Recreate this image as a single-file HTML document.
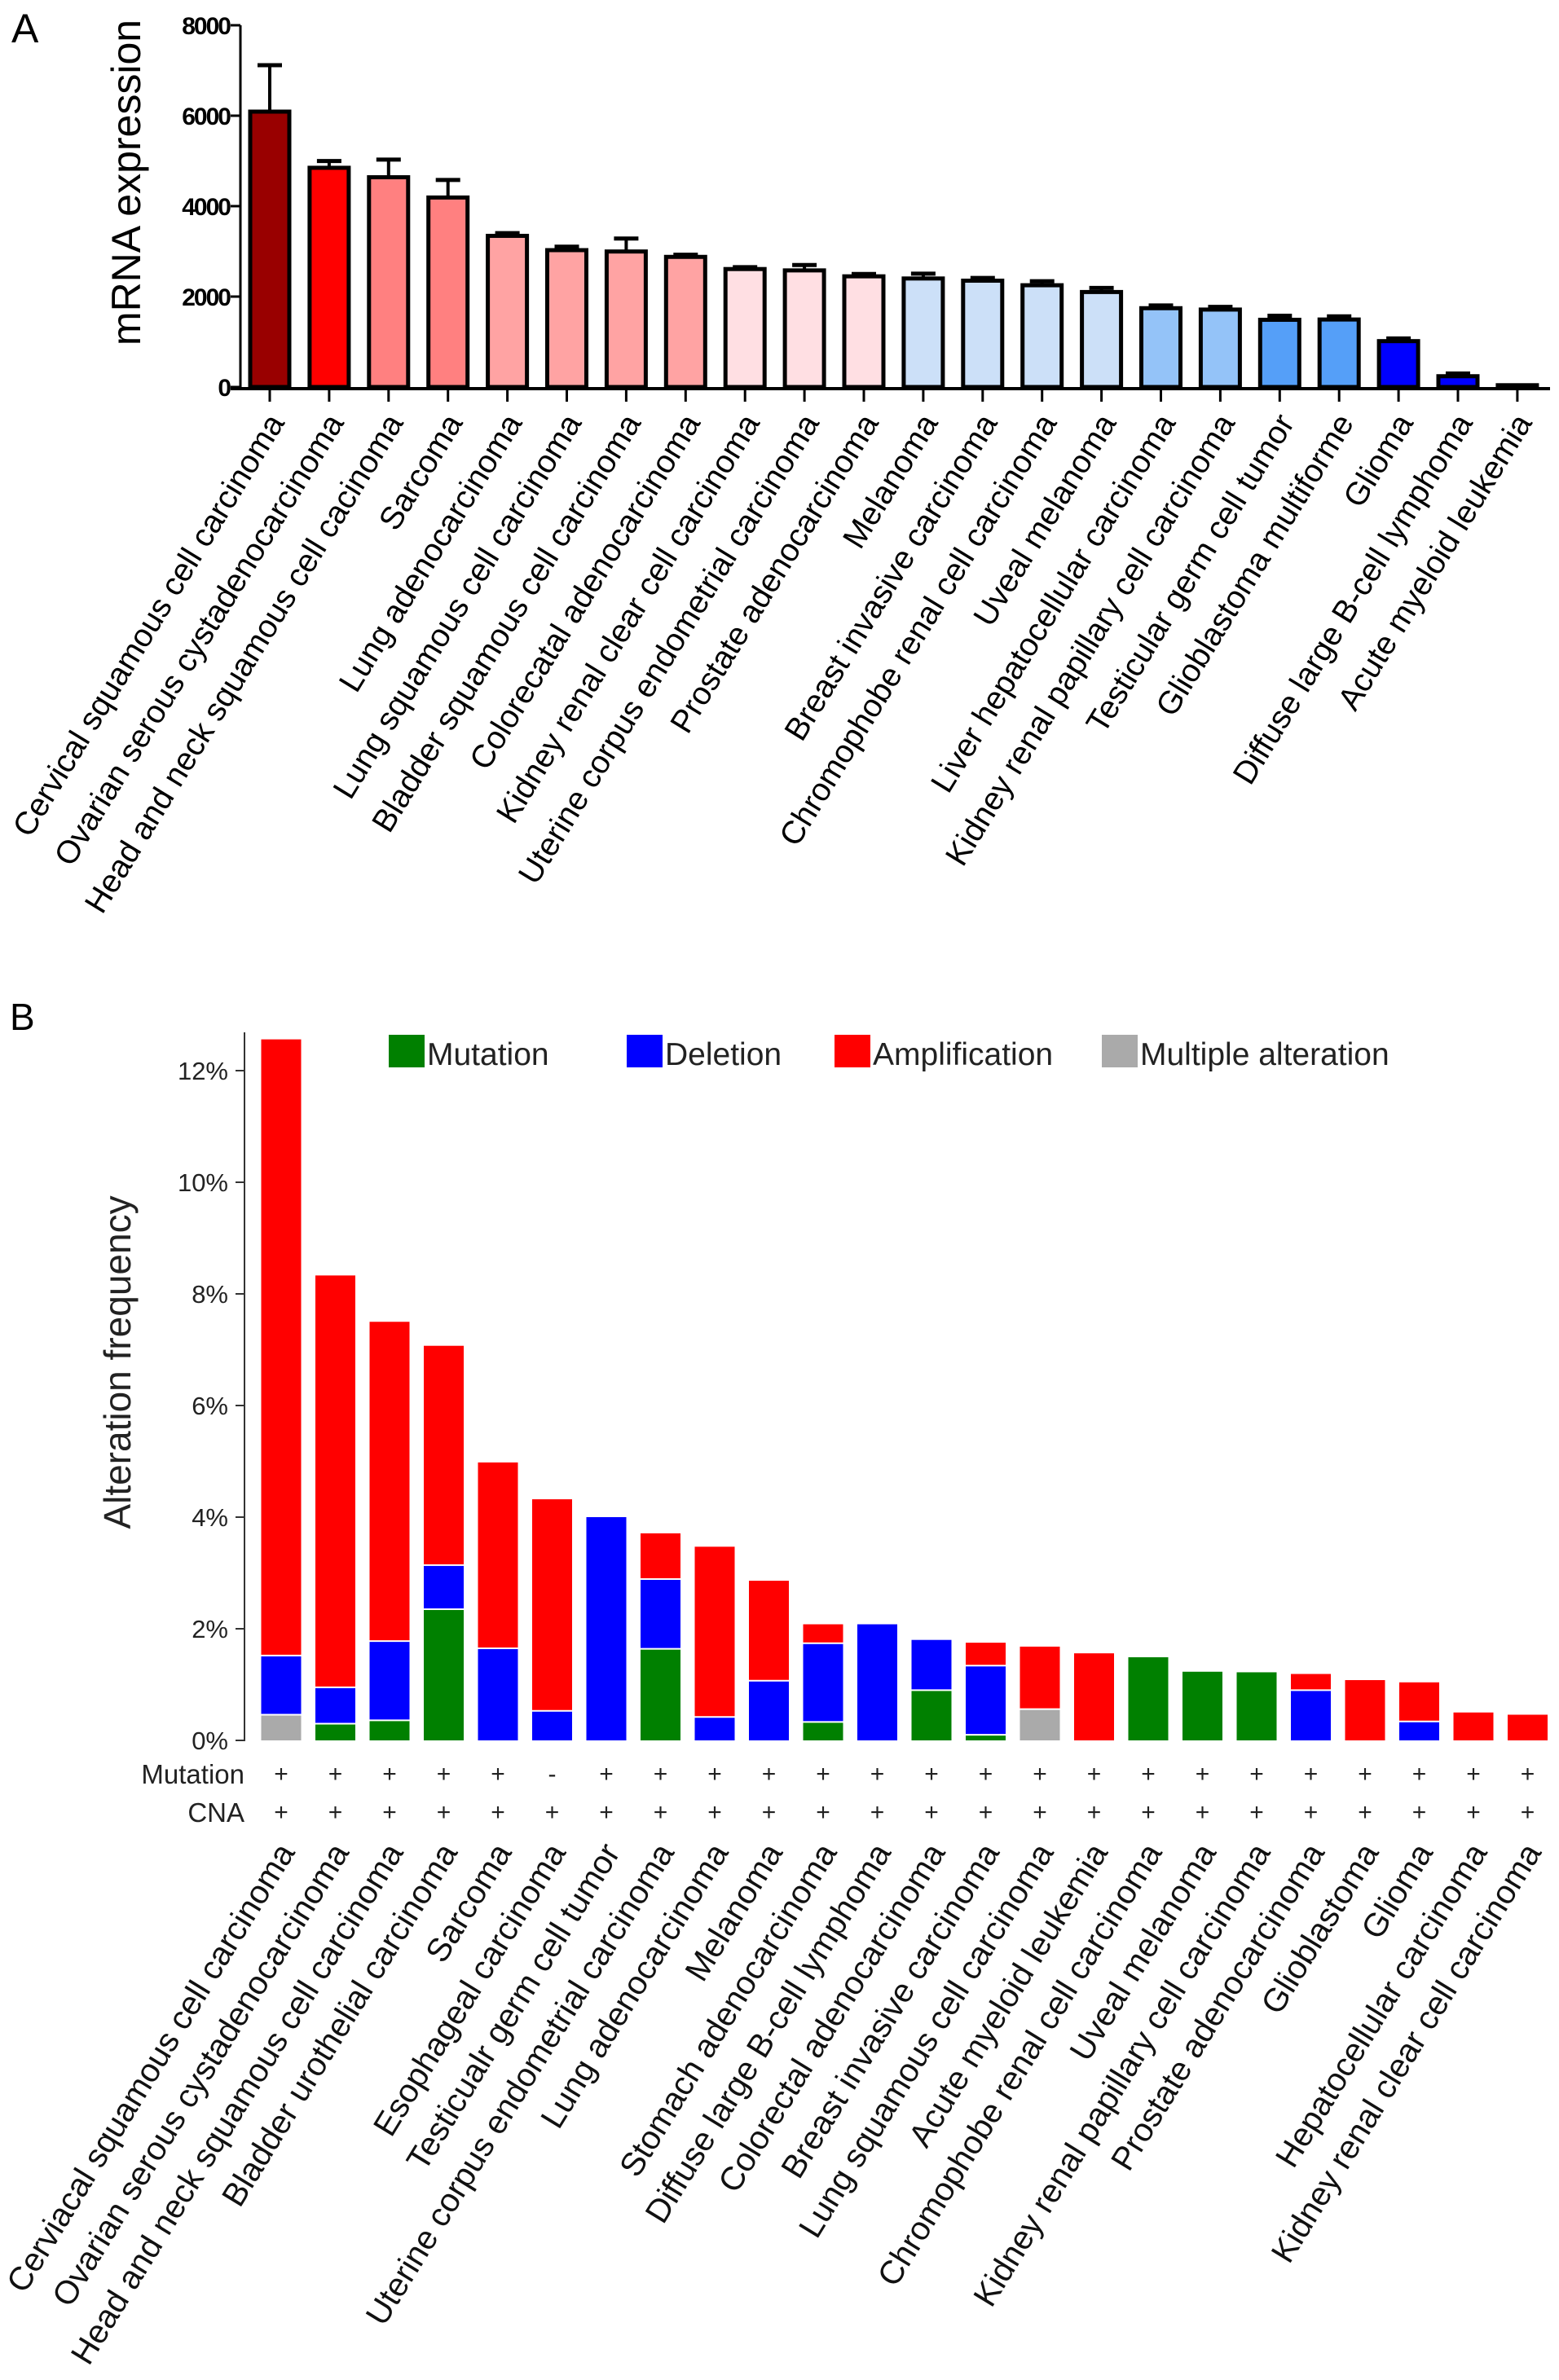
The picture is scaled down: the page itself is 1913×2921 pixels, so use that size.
<!DOCTYPE html>
<html><head><meta charset="utf-8">
<style>
html,body{margin:0;padding:0;background:#fff;}
svg{display:block;font-family:"Liberation Sans",Arial,sans-serif;}
</style></head>
<body>
<svg id="fig" width="1913" height="2921" viewBox="0 0 1913 2921" xmlns="http://www.w3.org/2000/svg">
  <text x="14" y="52" font-size="50" fill="#000">A</text>
  <text x="12" y="1264" font-size="46" fill="#000">B</text>
  <g id="chartA"></g>
  <g id="chartB"></g>
</svg>
<script>
// ---------- Panel A data ----------
const catsA = ["Cervical squamous cell carcinoma","Ovarian serous cystadenocarcinoma","Head and neck squamous cell cacinoma","Sarcoma","Lung adenocarcinoma","Lung squamous cell carcinoma","Bladder squamous cell carcinoma","Colorecatal adenocarcinoma","Kidney renal clear cell carcinoma","Uterine corpus endometrial carcinoma","Prostate adenocarcinoma","Melanoma","Breast invasive carcinoma","Chromophobe renal cell carcinoma","Uveal melanoma","Liver hepatocellular carcinoma","Kidney renal papillary cell carcinoma","Testicular germ cell tumor","Glioblastoma multiforme","Glioma","Diffuse large B-cell lymphoma","Acute myeloid leukemia"];
const valuesA = [6090,4848,4639,4191,3343,3027,2997,2878,2609,2579,2448,2400,2352,2251,2101,1743,1713,1487,1493,1015,239,40];
const errorsA = [1026,150,391,388,60,77,287,47,41,120,53,107,60,89,90,60,60,89,71,60,60,0];
const colorsA = ["#990000","#ff0000","#ff8080","#ff8080","#ffa3a3","#ffa3a3","#ffa3a3","#ffa3a3","#ffdfe3","#ffdfe3","#ffdfe3","#cce0f8","#cce0f8","#cce0f8","#cce0f8","#94c3f8","#94c3f8","#559ff8","#559ff8","#0000ff","#0000ff","#ffffff"];
const ticksA = [0,2000,4000,6000,8000];

// ---------- Panel B data ----------
const catsB = ["Cerviacal squamous cell carcinoma","Ovarian serous cystadenocarcinoma","Head and neck squamous cell carcinoma","Bladder urothelial carcinoma","Sarcoma","Esophageal carcinoma","Testicualr germ cell tumor","Uterine corpus endometrial carcinoma","Lung adenocarcinoma","Melanoma","Stomach adenocarcinoma","Diffuse large B-cell lymphoma","Colorectal adenocarcinoma","Breast invasive carcinoma","Lung squamous cell carcinoma","Acute myeloid leukemia","Chromophobe renal cell carcinoma","Uveal melanoma","Kidney renal papillary cell carcinoma","Prostate adenocarcinoma","Glioblastoma","Glioma","Hepatocellular carcinoma","Kidney renal clear cell carcinoma"];
const multipleB = [0.46,0,0,0,0,0,0,0,0,0,0,0,0,0,0.56,0,0,0,0,0,0,0,0,0];
const mutationB = [0,0.3,0.36,2.35,0,0,0,1.64,0,0,0.33,0,0.9,0.1,0,0,1.49,1.23,1.22,0,0,0,0,0];
const deletionB = [1.06,0.65,1.42,0.79,1.65,0.53,4.0,1.25,0.42,1.07,1.41,2.08,0.9,1.24,0,0,0,0,0,0.9,0,0.34,0,0];
const amplificationB = [11.04,7.38,5.72,3.93,3.33,3.79,0,0.82,3.05,1.79,0.34,0,0,0.41,1.12,1.56,0,0,0,0.29,1.08,0.7,0.5,0.46];
const mutRowB = ["+","+","+","+","+","-","+","+","+","+","+","+","+","+","+","+","+","+","+","+","+","+","+","+"];
const cnaRowB = ["+","+","+","+","+","+","+","+","+","+","+","+","+","+","+","+","+","+","+","+","+","+","+","+"];
const ticksB = [0,2,4,6,8,10,12];
const legendB = ["Mutation","Deletion","Amplification","Multiple alteration"];

const NS = "http://www.w3.org/2000/svg";
function mk(tag, attrs, parent){
  const e = document.createElementNS(NS, tag);
  for (const k in attrs) e.setAttribute(k, attrs[k]);
  parent.appendChild(e);
  return e;
}

// ---------- Panel A drawing ----------
(function(){
  const g = document.getElementById('chartA');
  const x0 = 331, step = 72.9, bw = 48;
  const yA = v => 475 - v * 0.0555;
  const xA = i => x0 + i * step;

  const yl = mk('text', {x:0, y:0, 'font-size':50, 'text-anchor':'middle', transform:'translate(172,224) rotate(-90)'}, g);
  yl.textContent = 'mRNA expression';
  
  

  const ax = mk('line', {x1:295, y1:yA(8000), x2:295, y2:477, stroke:'#000', 'stroke-width':3}, g);
  
  
  const xax = mk('line', {x1:283, y1:477, x2:1902, y2:477, stroke:'#000', 'stroke-width':4}, g);
  
  

  ticksA.forEach(t => {
    const y = yA(t);
    const tk = mk('line', {x1:283, y1:y, x2:295, y2:y, stroke:'#000', 'stroke-width':3}, g);
    
    
    const tl = mk('text', {x:282, y:y + 11, 'font-size':30, 'font-weight':'bold', 'text-anchor':'end', 'letter-spacing':-2}, g);
    tl.textContent = t;
    
    
  });

  catsA.forEach((c, i) => {
    const cx = xA(i);
    const top = yA(valuesA[i]);
    if (errorsA[i] > 0) {
      const ey = yA(valuesA[i] + errorsA[i]);
      const el = mk('line', {x1:cx, y1:ey, x2:cx, y2:top, stroke:'#000', 'stroke-width':4}, g);
      
      
      const cap = mk('line', {x1:cx - 15, y1:ey, x2:cx + 15, y2:ey, stroke:'#000', 'stroke-width':5}, g);
      
      
    }
    const b = mk('rect', {x:cx - bw/2, y:top, width:bw, height:Math.max(475 - top, 1), fill:colorsA[i], stroke:'#000', 'stroke-width':5}, g);
    
    
    const tk = mk('line', {x1:cx, y1:477, x2:cx, y2:493, stroke:'#000', 'stroke-width':3}, g);
    
    
    const lbl = mk('text', {x:0, y:0, 'font-size':39.5, 'text-anchor':'end', 'dominant-baseline':'central', transform:'translate(' + (cx + 8) + ',512) rotate(-58.5)'}, g);
    lbl.textContent = c;
    
    
  });
})();

// ---------- Panel B drawing ----------
(function(){
  const g = document.getElementById('chartB');
  const x0 = 345, step = 66.5, bw = 49;
  const yB = v => 2136 - v * 68.5;
  const xB = i => x0 + i * step;

  const yl = mk('text', {x:0, y:0, 'font-size':46, 'text-anchor':'middle', fill:'#222', transform:'translate(160,1672) rotate(-90)'}, g);
  yl.textContent = 'Alteration frequency';
  
  

  const ax = mk('line', {x1:300, y1:1267, x2:300, y2:2137, stroke:'#333', 'stroke-width':2}, g);
  
  

  ticksB.forEach(t => {
    const y = yB(t);
    const tk = mk('line', {x1:289, y1:y, x2:300, y2:y, stroke:'#333', 'stroke-width':2}, g);
    
    
    const tl = mk('text', {x:280, y:y + 11, 'font-size':31, 'text-anchor':'end', fill:'#222'}, g);
    tl.textContent = t + '%';
    
    
  });

  const series = [multipleB, mutationB, deletionB, amplificationB];
  const cols = ['#aaaaaa', '#008000', '#0000ff', '#ff0000'];
  const names = ['multiple', 'mutation', 'deletion', 'amplification'];

  catsB.forEach((c, i) => {
    const cx = xB(i);
    let cum = 0;
    series.forEach((s, k) => {
      const v = s[i];
      if (v <= 0) return;
      const y1 = yB(cum + v), y0 = yB(cum);
      const r = mk('rect', {x:cx - bw/2, y:y1, width:bw, height:y0 - y1, fill:cols[k]}, g);
      
      
      if (cum > 0) {
        const sep = mk('line', {x1:cx - bw/2, y1:y0, x2:cx + bw/2, y2:y0, stroke:'#fff', 'stroke-width':2}, g);
        
        
      }
      cum += v;
    });
    const m = mk('text', {x:cx, y:2187, 'font-size':30, 'text-anchor':'middle', fill:'#222'}, g);
    m.textContent = mutRowB[i];
    
    
    const n = mk('text', {x:cx, y:2234, 'font-size':30, 'text-anchor':'middle', fill:'#222'}, g);
    n.textContent = cnaRowB[i];
    
    
    const lbl = mk('text', {x:0, y:0, 'font-size':40.5, 'text-anchor':'end', 'dominant-baseline':'central', fill:'#111', transform:'translate(' + (cx + 6) + ',2266) rotate(-58.5)'}, g);
    lbl.textContent = c;
    
    
  });

  const ml = mk('text', {x:300, y:2189, 'font-size':33, 'text-anchor':'end', fill:'#222'}, g);
  ml.textContent = 'Mutation';
  
  
  const cl = mk('text', {x:300, y:2236, 'font-size':33, 'text-anchor':'end', fill:'#222'}, g);
  cl.textContent = 'CNA';
  
  

  const legX = [477, 769, 1024, 1352];
  const legC = ['#008000', '#0000ff', '#ff0000', '#aaaaaa'];
  legendB.forEach((t, k) => {
    const sw = mk('rect', {x:legX[k], y:1270, width:44, height:40, fill:legC[k]}, g);
    
    
    const lt = mk('text', {x:legX[k] + 47, y:1307, 'font-size':39, fill:'#222'}, g);
    lt.textContent = t;
    
    
  });
})();
</script>
</body></html>
